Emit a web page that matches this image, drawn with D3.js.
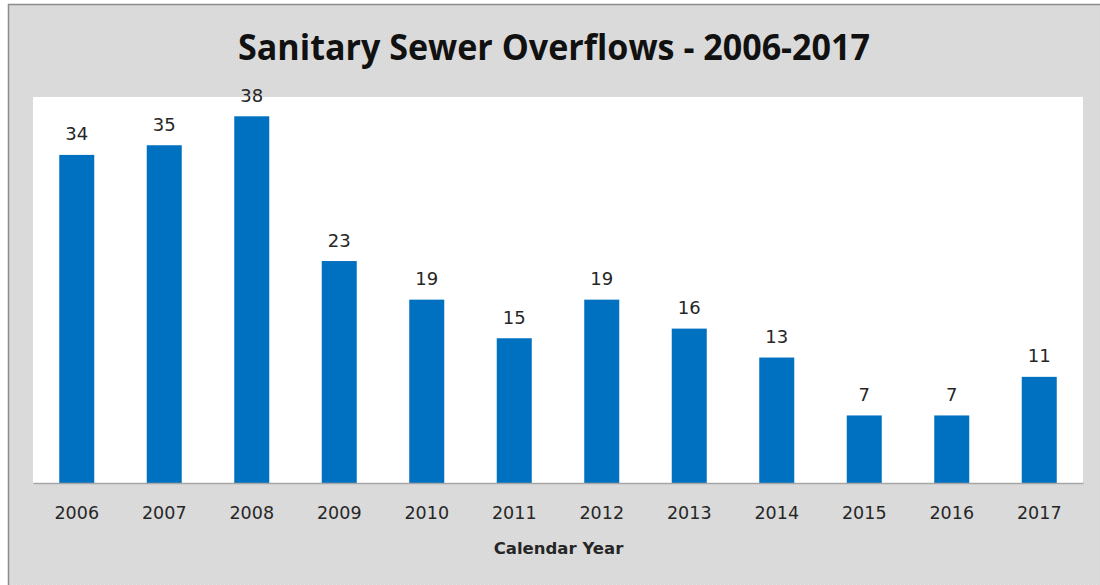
<!DOCTYPE html>
<html><head><meta charset="utf-8">
<script src="https://cdn.jsdelivr.net/npm/d3@7"></script>
<style>body{margin:0;background:#fff}svg{display:block}</style>
</head><body>
<script>
const years = ["2006","2007","2008","2009","2010","2011","2012","2013","2014","2015","2016","2017"];
const overflows = [34,35,38,23,19,15,19,16,13,7,7,11];
const yDomain = [0, 40];
const titleText = "Sanitary Sewer Overflows - 2006-2017";
const xTitle = "Calendar Year";

const W = 1100, H = 585;
const svg = d3.select("body").append("svg").attr("width", W).attr("height", H);
const defs = svg.append("defs");
const pat = defs.append("pattern").attr("id","tex").attr("width",4).attr("height",4).attr("patternUnits","userSpaceOnUse");
pat.append("rect").attr("width",4).attr("height",4).attr("fill","#d9d9d9");
pat.append("rect").attr("x",0).attr("y",0).attr("width",1).attr("height",1).attr("fill","#e2e2e2");
pat.append("rect").attr("x",2).attr("y",2).attr("width",1).attr("height",1).attr("fill","#e2e2e2");

svg.append("rect").attr("x",0).attr("y",0).attr("width",W).attr("height",H).attr("fill","#fff");
svg.append("rect").attr("x",8.5).attr("y",4.5).attr("width",W).attr("height",H).attr("fill","url(#tex)").attr("stroke","#8c8c8c").attr("stroke-width",1.5);

const m = {left:33, right:1083, top:97, bottom:483};
svg.append("rect").attr("x",m.left).attr("y",m.top).attr("width",m.right-m.left).attr("height",m.bottom-m.top).attr("fill","#fff");

const x = d3.scaleBand().domain(years).range([m.left, m.right]).paddingInner(0.6).paddingOuter(0.3);
const y = d3.scaleLinear().domain(yDomain).range([m.bottom, m.top]);

svg.append("g").selectAll("rect").data(overflows).join("rect")
  .attr("x",(d,i)=>x(years[i])).attr("width",x.bandwidth())
  .attr("y",d=>y(d)).attr("height",d=>y(0)-y(d)).attr("fill","#0070c0");

svg.append("g").selectAll("text").data(overflows).join("text")
  .attr("x",(d,i)=>x(years[i])+x.bandwidth()/2).attr("y",d=>y(d)-14.5)
  .attr("text-anchor","middle").attr("font-family","DejaVu Sans, Verdana, sans-serif").attr("font-size",18).attr("fill","#262626")
  .text(d=>d);

const xAxis = svg.append("g").attr("transform",`translate(0,${m.bottom})`).call(d3.axisBottom(x).tickSize(0).tickPadding(24));
xAxis.select(".domain").attr("stroke","#a6a6a6").attr("stroke-width",1.5);
xAxis.selectAll("text").attr("font-family","DejaVu Sans, Verdana, sans-serif").attr("font-size",17.5).attr("fill","#262626");

svg.append("text").attr("x",(m.left+m.right)/2 + 0.5).attr("y",554).attr("text-anchor","middle")
  .attr("font-family","DejaVu Sans, Verdana, sans-serif").attr("font-weight","bold").attr("font-size",16.5).attr("fill","#262626").text(xTitle);

svg.append("text").attr("x",554).attr("y",60).attr("text-anchor","middle")
  .attr("font-family","Open Sans, sans-serif").attr("font-weight","bold").attr("font-size",36)
  .attr("textLength",632).attr("lengthAdjust","spacingAndGlyphs").attr("fill","#111").text(titleText);
</script>
</body></html>
